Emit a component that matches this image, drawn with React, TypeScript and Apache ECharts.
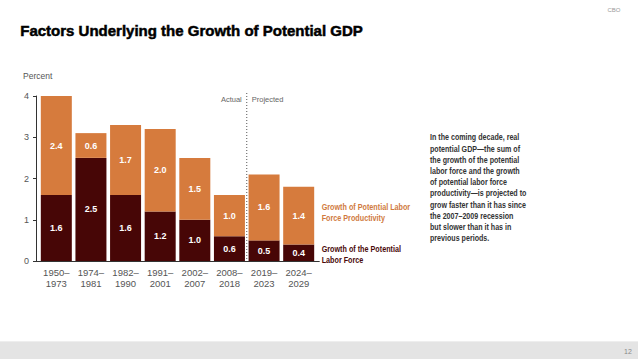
import React, { useEffect, useRef } from "react";
import * as echarts from "echarts";

const categories = ["1950–\n1973", "1974–\n1981", "1982–\n1990", "1991–\n2001", "2002–\n2007", "2008–\n2018", "2019–\n2023", "2024–\n2029"];
const laborForce = [1.6, 2.5, 1.6, 1.2, 1.0, 0.6, 0.5, 0.4];
const productivity = [2.4, 0.6, 1.7, 2.0, 1.5, 1.0, 1.6, 1.4];
const yTicks = { min: 0, max: 4, interval: 1 };
const paragraph = [
  "In the coming decade, real",
  "potential GDP—the sum of",
  "the growth of the potential",
  "labor force and the growth",
  "of potential labor force",
  "productivity—is projected to",
  "grow faster than it has since",
  "the 2007–2009 recession",
  "but slower than it has in",
  "previous periods.",
];

const ORANGE = "#D67B3D";
const DARK = "#470606";
const SANS = "'Liberation Sans', Arial, sans-serif";

export default function App() {
  const ref = useRef<HTMLDivElement>(null);
  useEffect(() => {
    if (!ref.current) return;
    const chart = echarts.init(ref.current, null, { renderer: "svg" });
    const labelStyle = {
      show: true,
      position: "inside",
      color: "#ffffff",
      fontWeight: "bold",
      fontSize: 9,
      fontFamily: SANS,
      formatter: (p: any) => Number(p.value).toFixed(1),
    };
    chart.setOption({
      animation: false,
      backgroundColor: "#ffffff",
      grid: { left: 39, right: 322, top: 96, bottom: 98 },
      xAxis: {
        type: "category",
        data: categories,
        axisLine: { show: false },
        axisTick: { show: false },
        axisLabel: {
          color: "#555",
          fontSize: 9.5,
          lineHeight: 11,
          margin: 6,
          fontFamily: SANS,
        },
      },
      yAxis: {
        type: "value",
        min: yTicks.min,
        max: yTicks.max,
        interval: yTicks.interval,
        offset: 3,
        axisLine: { show: true, lineStyle: { color: "#333", width: 1 } },
        axisTick: { show: true, length: 3, lineStyle: { color: "#333" } },
        axisLabel: { color: "#555", fontSize: 9, margin: 7, fontFamily: SANS },
        splitLine: { show: false },
      },
      series: [
        {
          name: "Growth of the Potential Labor Force",
          type: "bar",
          stack: "total",
          data: laborForce,
          barWidth: 31,
          itemStyle: { color: DARK },
          label: labelStyle,
        },
        {
          name: "Growth of Potential Labor Force Productivity",
          type: "bar",
          stack: "total",
          data: productivity,
          barWidth: 31,
          itemStyle: { color: ORANGE },
          label: labelStyle,
        },
      ],
    });

    const p0 = chart.convertToPixel({ gridIndex: 0 }, [5, 0]) as number[];
    const p1 = chart.convertToPixel({ gridIndex: 0 }, [6, 4]) as number[];
    const divX = (p0[0] + p1[0]) / 2;
    const baseY = p0[1];
    const topY = p1[1];
    const first = chart.convertToPixel({ gridIndex: 0 }, [0, 0]) as number[];
    const last = chart.convertToPixel({ gridIndex: 0 }, [categories.length - 1, 0]) as number[];
    const legendX = last[0] + 23;
    const prodMid = chart.convertToPixel({ gridIndex: 0 }, [7, laborForce[7] + productivity[7] / 2]) as number[];

    const graphic: any[] = [
      {
        type: "text",
        left: 20,
        top: 23,
        style: {
          text: "Factors Underlying the Growth of Potential GDP",
          fontSize: 15,
          fontWeight: "bold",
          fill: "#000",
          stroke: "#000",
          lineWidth: 0.5,
          fontFamily: SANS,
        },
      },
      {
        type: "text",
        x: 614,
        y: 10,
        style: { text: "CBO", fontSize: 6, fill: "#999", textAlign: "center", textVerticalAlign: "middle", fontFamily: SANS },
      },
      {
        type: "text",
        x: 23,
        y: 76,
        style: { text: "Percent", fontSize: 8.5, fill: "#555", textVerticalAlign: "middle", fontFamily: SANS },
      },
      {
        type: "line",
        shape: { x1: first[0] - 20.5, y1: baseY + 0.5, x2: legendX - 2, y2: baseY + 0.5 },
        style: { stroke: "#333", lineWidth: 1 },
        z: 10,
      },
      {
        type: "line",
        shape: { x1: divX, y1: topY - 3, x2: divX, y2: baseY },
        style: { stroke: "#555", lineWidth: 1, lineDash: [1, 2] },
        z: 10,
      },
      {
        type: "text",
        x: divX - 5,
        y: topY + 3,
        style: { text: "Actual", fontSize: 7.5, fill: "#666", textAlign: "right", textVerticalAlign: "middle", fontFamily: SANS },
      },
      {
        type: "text",
        x: divX + 5,
        y: topY + 3,
        style: { text: "Projected", fontSize: 7.5, fill: "#666", textAlign: "left", textVerticalAlign: "middle", fontFamily: SANS },
      },
      {
        type: "text",
        x: legendX,
        y: prodMid[1] - 4,
        scaleX: 0.76,
        style: {
          text: "Growth of Potential Labor\nForce Productivity",
          fontSize: 9.5,
          lineHeight: 11,
          fontWeight: "bold",
          fill: "#D07A3E",
          textVerticalAlign: "middle",
          fontFamily: SANS,
        },
      },
      {
        type: "text",
        x: legendX,
        y: baseY - 7,
        scaleX: 0.76,
        style: {
          text: "Growth of the Potential\nLabor Force",
          fontSize: 9.5,
          lineHeight: 11,
          fontWeight: "bold",
          fill: "#4A0A0A",
          textVerticalAlign: "middle",
          fontFamily: SANS,
        },
      },
      {
        type: "text",
        x: 430,
        y: 132,
        scaleX: 0.79,
        style: {
          text: paragraph.join("\n"),
          fontSize: 9,
          lineHeight: 11.2,
          fontWeight: "bold",
          fill: "#333",
          fontFamily: SANS,
        },
      },
      {
        type: "rect",
        shape: { x: 0, y: 341, width: 638, height: 18 },
        style: { fill: "#e4e4e4" },
      },
      {
        type: "line",
        shape: { x1: 0, y1: 341.5, x2: 638, y2: 341.5 },
        style: { stroke: "#eeeeee", lineWidth: 1 },
      },
      {
        type: "text",
        x: 628,
        y: 351,
        style: { text: "12", fontSize: 7, fill: "#888", textAlign: "center", textVerticalAlign: "middle", fontFamily: SANS },
      },
    ];
    chart.setOption({ graphic });
    return () => chart.dispose();
  }, []);
  return <div ref={ref} style={{ position: "absolute", left: 0, top: 0, width: 638, height: 359 }} />;
}
